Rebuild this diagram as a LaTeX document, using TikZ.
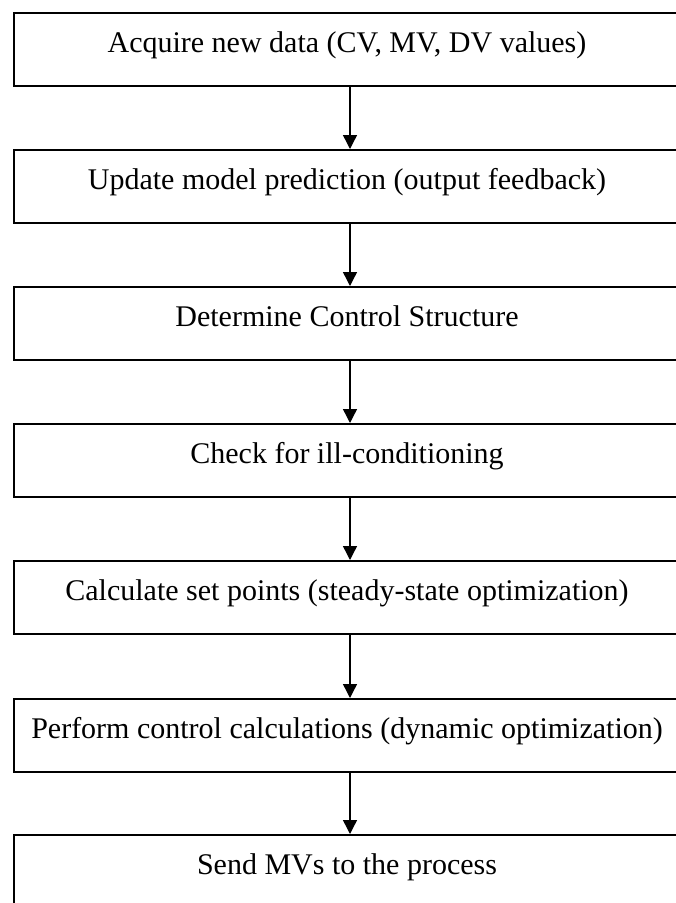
\documentclass[tikz,border=0pt]{standalone}
\usepackage{fontspec}
\setmainfont{Liberation Serif}
\usetikzlibrary{arrows.meta}
\begin{document}
\begin{tikzpicture}[x=1pt,y=-1pt,
  stepbox/.style={draw, line width=1.6pt, rectangle, inner sep=0pt,
    minimum width=666pt, minimum height=73pt, text height=40pt, text depth=33pt,
    anchor=north, font=\fontsize{30}{35}\selectfont},
  flow/.style={line width=1.4pt, -{Triangle[length=14pt,width=14pt]}}]
\clip (0,0) rectangle (676,903);
\useasboundingbox (0,0) rectangle (676,903);
\node[stepbox] (b1) at (347,12) {Acquire new data (CV, MV, DV values)};
\node[stepbox] (b2) at (347,149) {Update model prediction (output feedback)};
\node[stepbox] (b3) at (347,286) {Determine Control Structure};
\node[stepbox] (b4) at (347,423) {Check for ill-conditioning};
\node[stepbox] (b5) at (347,560) {Calculate set points (steady-state optimization)};
\node[stepbox] (b6) at (347,698) {Perform control calculations (dynamic optimization)};
\node[stepbox] (b7) at (347,834) {Send MVs to the process};
\foreach \a/\b in {b1/b2,b2/b3,b3/b4,b4/b5,b5/b6,b6/b7}
  \draw[flow] ([xshift=3pt]\a.south) -- ([xshift=3pt]\b.north);
\end{tikzpicture}
\end{document}
